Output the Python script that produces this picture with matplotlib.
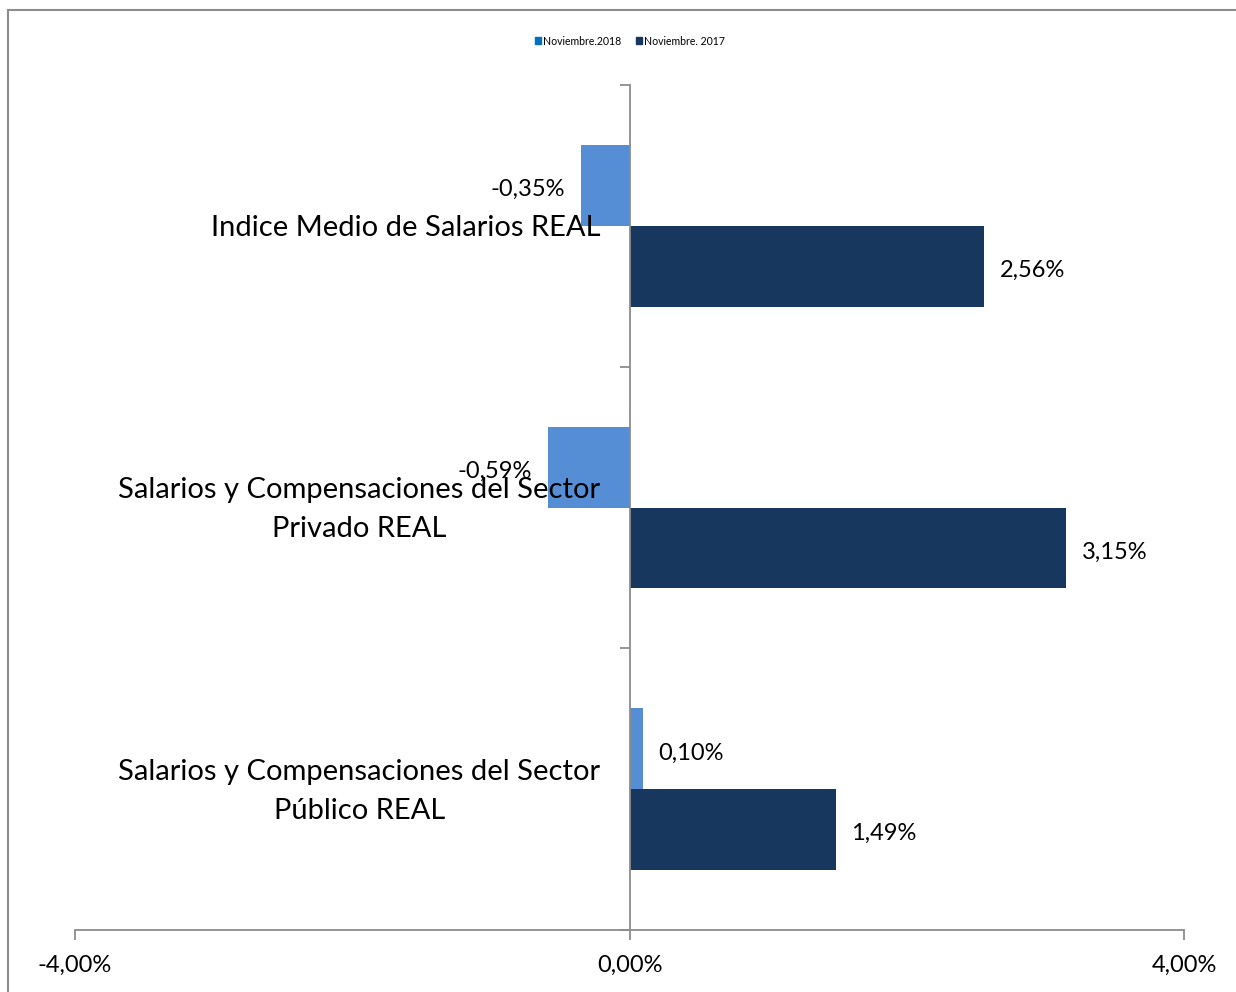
import matplotlib.pyplot as plt
from matplotlib.patches import Rectangle, Patch

categories = ["Indice Medio de Salarios REAL",
              "Salarios y Compensaciones del Sector\nPrivado REAL",
              "Salarios y Compensaciones del Sector\nPúblico REAL"]
nov_2018 = [-0.35, -0.59, 0.10]
nov_2017 = [2.56, 3.15, 1.49]
series_names = ["Noviembre.2018", "Noviembre. 2017"]
x_ticks = [-4, 0, 4]

light = "#558ED5"
dark = "#17375E"
grey = "#8C8C8C"

plt.rcParams['font.family'] = ['Lato', 'DejaVu Sans']

fig = plt.figure(figsize=(12.36, 9.92), dpi=100)
ax = fig.add_axes([75 / 1236, 1 - 930 / 992, 1109 / 1236, 845 / 992])

# first category on top
ypos = [2, 1, 0]
h = 0.287

ax.barh([y + h / 2 for y in ypos], nov_2018, height=h, color=light, zorder=2)
ax.barh([y - h / 2 for y in ypos], nov_2017, height=h, color=dark, zorder=2)

def fmt(v):
    return f"{v:.2f}%".replace(".", ",")

for y, v in zip(ypos, nov_2018):
    if v < 0:
        ax.annotate(fmt(v), (v, y + h / 2), xytext=(-11.5, -3), textcoords="offset points",
                    ha="right", va="center", fontsize=17, zorder=5)
    else:
        ax.annotate(fmt(v), (v, y + h / 2), xytext=(11, -3), textcoords="offset points",
                    ha="left", va="center", fontsize=17, zorder=5)
for y, v in zip(ypos, nov_2017):
    ax.annotate(fmt(v), (v, y - h / 2), xytext=(11, -3), textcoords="offset points",
                ha="left", va="center", fontsize=17, zorder=5)

# category labels, right aligned next to the axis
for y, c in zip(ypos, categories):
    ax.annotate(c, (0, y), xytext=(-21, -1.5), textcoords="offset points",
                ha="right", va="center", multialignment="center",
                fontsize=21, linespacing=1.6, zorder=6)

ax.set_xlim(-4, 4)
ax.set_ylim(-0.5, 2.5)
ax.set_xticks(x_ticks)
ax.set_xticklabels([fmt(t) for t in x_ticks], fontsize=17)
ax.tick_params(axis="x", length=7, color=grey, width=1.3, pad=11)

for s in ["top", "right"]:
    ax.spines[s].set_visible(False)
ax.spines["left"].set_position(("data", 0))
ax.spines["left"].set_zorder(4)
for s in ["left", "bottom"]:
    ax.spines[s].set_color(grey)
    ax.spines[s].set_linewidth(1.3)
ax.set_yticks([-0.5, 0.5, 1.5, 2.5])
ax.set_yticklabels([])
ax.tick_params(axis="y", length=7, color=grey, width=1.3)

handles = [Patch(color="#0070C0", label=series_names[0]),
           Patch(color=dark, label=series_names[1])]
fig.legend(handles=handles, loc="upper center", bbox_to_anchor=(630 / 1236, 1 - 26 / 992),
           ncol=2, fontsize=7.6, frameon=False, handlelength=0.6, handleheight=0.6,
           handletextpad=0.15, columnspacing=1.4)

# outer chart frame
fig.patches.append(Rectangle((8 / 1236, -0.1), 1.2, 1.1 - 10 / 992, transform=fig.transFigure,
                             fill=False, edgecolor=grey, linewidth=1.5))

fig.savefig("out.png", dpi=100)
